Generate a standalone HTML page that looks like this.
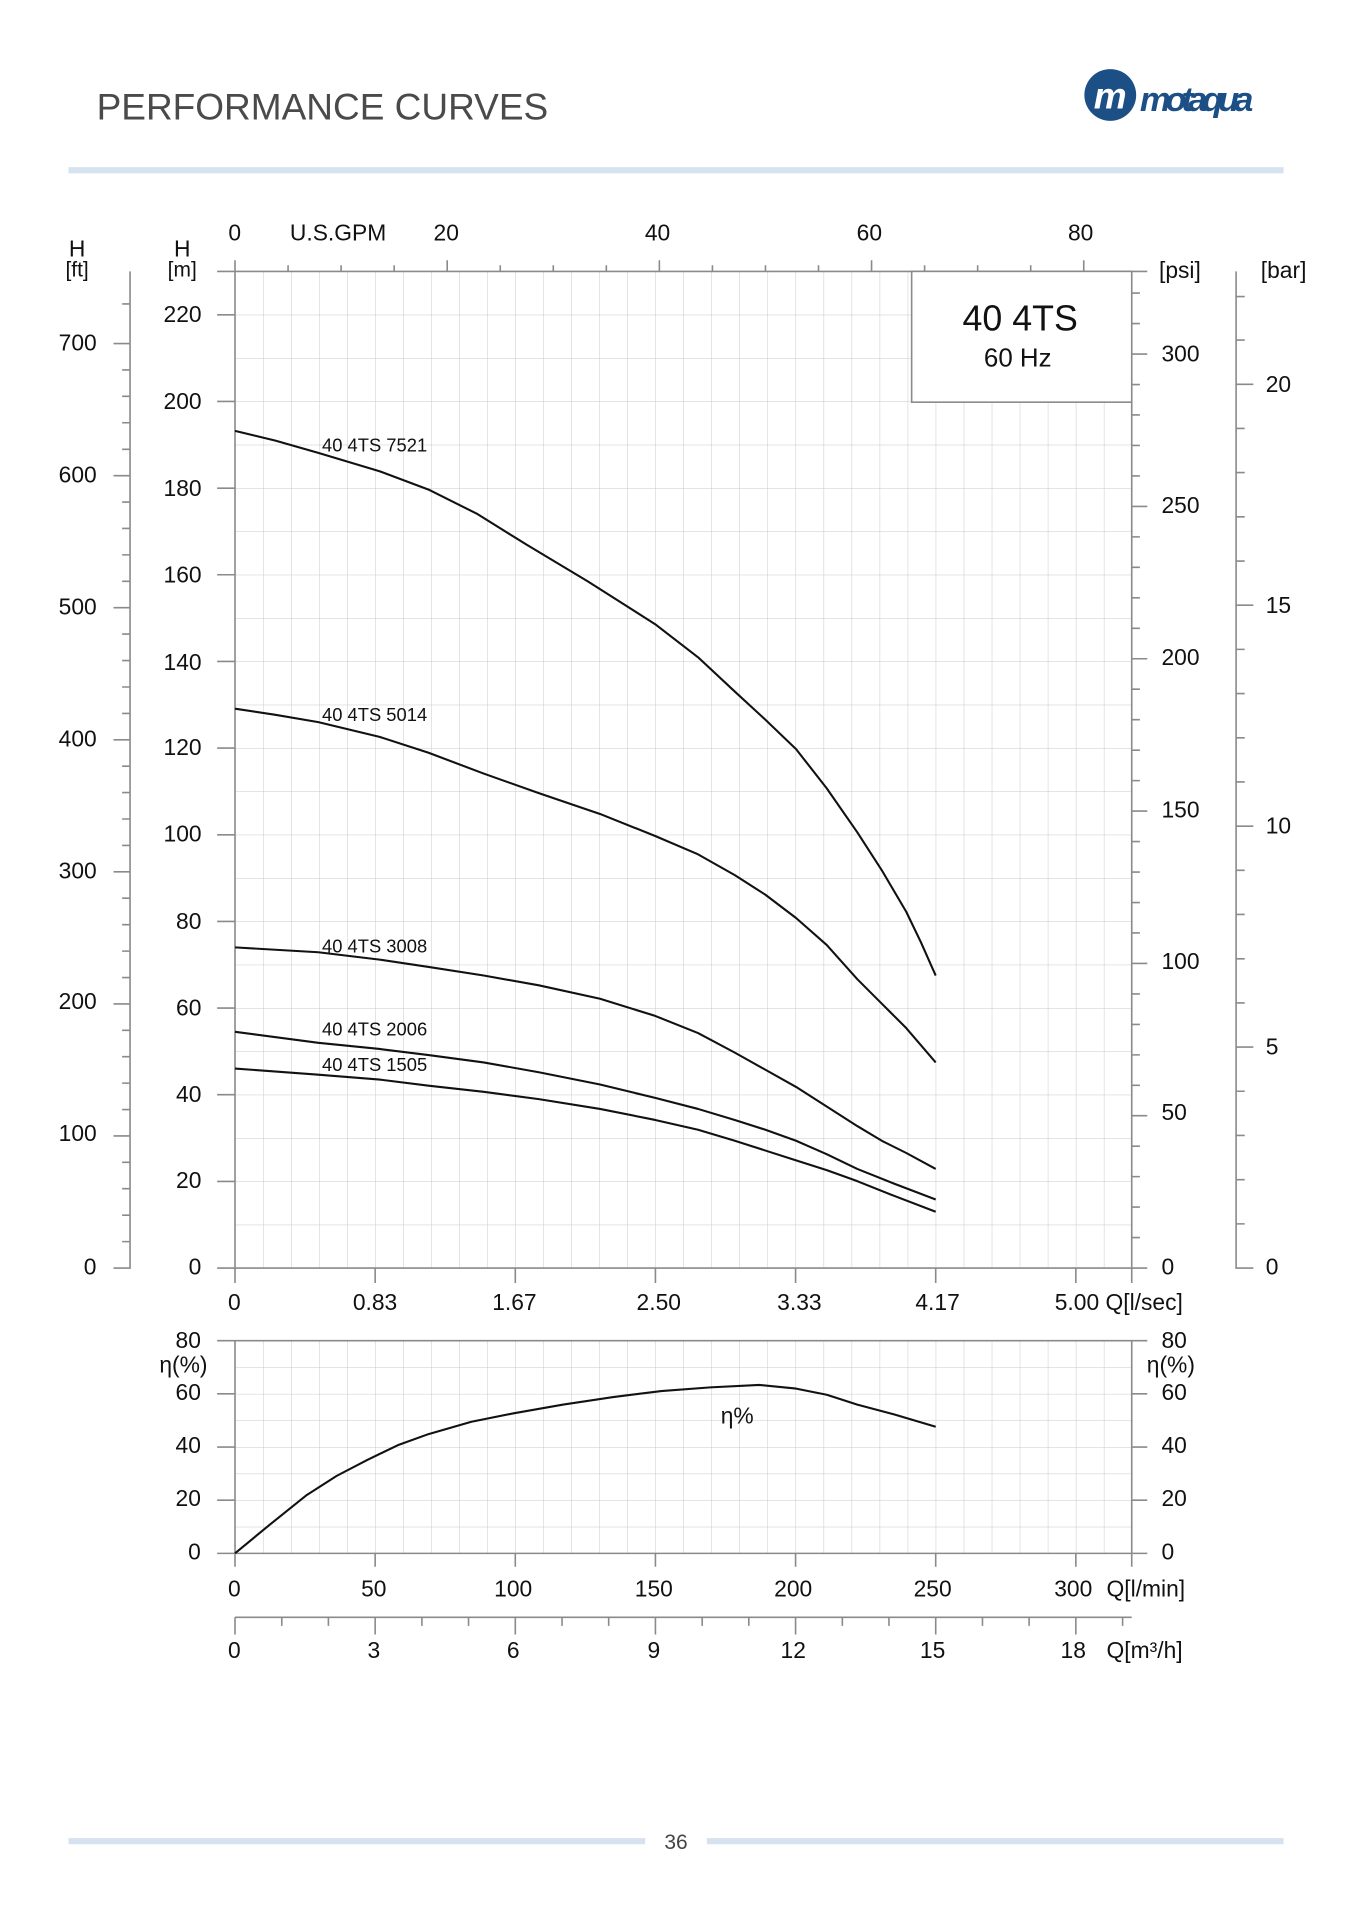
<!DOCTYPE html>
<html><head><meta charset="utf-8"><style>
html,body{margin:0;padding:0;background:#fff;}
svg{display:block;}
text{font-family:"Liberation Sans",Arial,sans-serif;fill:#111;}
</style></head><body>
<svg width="1357" height="1920" viewBox="0 0 1100 1556.4" xmlns="http://www.w3.org/2000/svg">
<defs>
<pattern id="g1" x="190.5" y="1027.9" width="22.72" height="35.126" patternUnits="userSpaceOnUse">
<path d="M0 0V35.126M0 0H22.72" stroke="#c8c8c8" stroke-width="0.8" fill="none"/>
</pattern>
<pattern id="g2" x="190.5" y="1259.2" width="22.72" height="21.55" patternUnits="userSpaceOnUse">
<path d="M0 0V21.55M0 0H22.72" stroke="#c8c8c8" stroke-width="0.8" fill="none"/>
</pattern>
</defs>
<!-- header -->
<text x="78.3" y="97" font-size="30" style="fill:#4a4a4a">PERFORMANCE CURVES</text>
<rect x="55.5" y="135.5" width="985" height="5" fill="#d7e2f1"/>
<circle cx="900" cy="77" r="21" fill="#1b4f86"/>
<text x="900" y="88" font-size="30" font-style="italic" font-weight="bold" text-anchor="middle" style="fill:#fff">m</text>
<text x="924" y="90" font-size="28" font-style="italic" font-weight="bold" textLength="92" style="fill:#1b4f86">motaqua</text>
<!-- footer -->
<rect x="55.5" y="1490" width="467.5" height="5" fill="#d7e2f1"/>
<rect x="573" y="1490" width="467.5" height="5" fill="#d7e2f1"/>
<text x="548" y="1499" font-size="17" text-anchor="middle" style="fill:#444">36</text>

<!-- main grid -->
<rect x="190.5" y="220" width="726.9" height="807.9" fill="url(#g1)"/>
<g stroke="#8a8a8a" stroke-width="1.3" fill="none">
<path d="M176 220H917.4V1040M190.5 211V1040M176 1027.9H930M917.4 220H930"/>
<path d="M176 255.2H190.5M176 325.4H190.5M176 395.7H190.5M176 465.9H190.5M176 536.2H190.5M176 606.4H190.5M176 676.7H190.5M176 746.9H190.5M176 817.2H190.5M176 887.4H190.5M176 957.7H190.5"/>
<path d="M304.1 1027.9V1040M417.7 1027.9V1040M531.3 1027.9V1040M644.9 1027.9V1040M758.5 1027.9V1040M872.1 1027.9V1040"/>
<path d="M362.5 220V211M534.5 220V211M706.5 220V211M878.5 220V211"/>
<path d="M233.5 220V215M276.5 220V215M319.5 220V215M405.5 220V215M448.5 220V215M491.5 220V215M577.5 220V215M620.5 220V215M663.5 220V215M749.5 220V215M792.5 220V215M835.5 220V215"/>
<path d="M105.4 220V1027.9H92M92 278.5H105.4M92 385.6H105.4M92 492.6H105.4M92 599.7H105.4M92 706.7H105.4M92 813.8H105.4M92 920.8H105.4"/>
<path d="M99 246.4H105.4M99 299.9H105.4M99 321.3H105.4M99 342.7H105.4M99 364.2H105.4M99 407H105.4M99 428.4H105.4M99 449.8H105.4M99 471.2H105.4M99 514H105.4M99 535.5H105.4M99 556.9H105.4M99 578.3H105.4M99 621.1H105.4M99 642.5H105.4M99 663.9H105.4M99 685.3H105.4M99 728.1H105.4M99 749.6H105.4M99 771H105.4M99 792.4H105.4M99 835.2H105.4M99 856.6H105.4M99 878H105.4M99 899.4H105.4M99 942.2H105.4M99 963.6H105.4M99 985.1H105.4M99 1006.5H105.4"/>
<path d="M917.4 287H930M917.4 410.5H930M917.4 534H930M917.4 657.5H930M917.4 781H930M917.4 904.4H930"/>
<path d="M917.4 262.3H924M917.4 311.7H924M917.4 336.4H924M917.4 361.1H924M917.4 385.8H924M917.4 435.2H924M917.4 459.9H924M917.4 484.6H924M917.4 509.3H924M917.4 558.7H924M917.4 583.4H924M917.4 608.1H924M917.4 632.8H924M917.4 682.2H924M917.4 706.9H924M917.4 731.6H924M917.4 756.3H924M917.4 805.7H924M917.4 830.4H924M917.4 855.1H924M917.4 879.8H924M917.4 929.1H924M917.4 953.8H924M917.4 978.5H924M917.4 1003.2H924M917.4 237.6H924"/>
<path d="M1002 220V1027.9H1016M1002 311.5H1016M1002 490.6H1016M1002 669.7H1016M1002 848.8H1016"/>
<path d="M1002 240.4H1009M1002 275.7H1009M1002 347.3H1009M1002 383.1H1009M1002 418.9H1009M1002 454.8H1009M1002 526.4H1009M1002 562.2H1009M1002 598.1H1009M1002 633.9H1009M1002 705.5H1009M1002 741.3H1009M1002 777.2H1009M1002 813H1009M1002 884.6H1009M1002 920.4H1009M1002 956.3H1009M1002 992.1H1009"/>
</g>
<!-- legend box -->
<rect x="739" y="220" width="178.4" height="106" fill="#fff" stroke="#8a8a8a" stroke-width="1.3"/>
<text x="827" y="268" font-size="29" text-anchor="middle">40 4TS</text>
<text x="825" y="297" font-size="21" text-anchor="middle">60 Hz</text>

<!-- axis labels -->
<g font-size="18.5">
<text x="62.5" y="208" text-anchor="middle">H</text><text x="62.5" y="224" text-anchor="middle" font-size="17">[ft]</text>
<text x="147.7" y="208" text-anchor="middle">H</text><text x="147.7" y="224" text-anchor="middle" font-size="17">[m]</text>
<g text-anchor="middle">
<text x="63" y="284">700</text><text x="63" y="391">600</text><text x="63" y="498">500</text><text x="63" y="605">400</text><text x="63" y="712">300</text><text x="63" y="818">200</text><text x="63" y="925">100</text><text x="73" y="1033">0</text>
<text x="148" y="261">220</text><text x="148" y="331.5">200</text><text x="148" y="402">180</text><text x="148" y="472">160</text><text x="148" y="543">140</text><text x="148" y="612">120</text><text x="148" y="682">100</text><text x="153" y="753">80</text><text x="153" y="823">60</text><text x="153" y="893.5">40</text><text x="153" y="963">20</text><text x="158" y="1033">0</text>
<text x="190.3" y="195">0</text><text x="361.7" y="195">20</text><text x="533" y="195">40</text><text x="704.7" y="195">60</text><text x="876" y="195">80</text>
<text x="190" y="1062">0</text><text x="304" y="1062">0.83</text><text x="417" y="1062">1.67</text><text x="534" y="1062">2.50</text><text x="648" y="1062">3.33</text><text x="760" y="1062">4.17</text>
</g>
<text x="235" y="195">U.S.GPM</text>
<text x="855" y="1062">5.00 Q[l/sec]</text>
<text x="939.5" y="225.5">[psi]</text><text x="1022" y="225.5">[bar]</text>
<text x="941.5" y="293">300</text><text x="941.5" y="416">250</text><text x="941.5" y="539">200</text><text x="941.5" y="662.5">150</text><text x="941.5" y="785.5">100</text><text x="941.5" y="908">50</text><text x="941.5" y="1033">0</text>
<text x="1026" y="317.7">20</text><text x="1026" y="497">15</text><text x="1026" y="675.5">10</text><text x="1026" y="855">5</text><text x="1026" y="1033">0</text>
</g>

<!-- head curves -->
<g transform="matrix(0.993,0,0,0.9922,-0.16,0)">
<g fill="none" stroke="#111" stroke-width="1.7" stroke-linejoin="round">
<polyline points="192,352 225,360 260,370 310,385 350,400 390,420 430,445 480,475 535,510 570,537 600,565 625,588 650,612 675,644 700,680 720,711 740,745 752,770 764,797"/>
<polyline points="192,579 225,584 260,590 310,602 350,615 395,632 440,648 490,665 535,683 570,698 600,715 625,731 650,750 675,772 700,800 720,820 740,840 752,854 764,868"/>
<polyline points="192,774 260,778 310,784 350,790 395,797 440,805 490,816 535,830 570,844 600,860 625,874 650,888 675,904 700,920 720,932 740,942 764,955"/>
<polyline points="192,843 260,852 310,857 350,862 395,868 440,876 490,886 535,897 570,906 600,915 625,923 650,932 675,943 700,955 730,967 764,980"/>
<polyline points="192,873 260,878 310,882 350,887 395,892 440,898 490,906 535,915 570,923 600,932 625,940 650,948 675,956 700,965 730,977 764,990"/>
</g>
<g font-size="15">
<text x="263" y="369">40 4TS 7521</text>
<text x="263" y="589">40 4TS 5014</text>
<text x="263" y="778">40 4TS 3008</text>
<text x="263" y="846">40 4TS 2006</text>
<text x="263" y="875">40 4TS 1505</text>
</g>
</g>

<!-- efficiency chart -->
<rect x="190.5" y="1086.8" width="726.9" height="172.4" fill="url(#g2)"/>
<g stroke="#8a8a8a" stroke-width="1.3" fill="none">
<path d="M176 1086.8H930M190.5 1086.8V1270M917.4 1086.8V1270M176 1259.2H930M176 1129.9H190.5M176 1173H190.5M176 1216.1H190.5M917.4 1129.9H930M917.4 1173H930M917.4 1216.1H930"/>
<path d="M304.1 1259.2V1270M417.7 1259.2V1270M531.3 1259.2V1270M644.9 1259.2V1270M758.5 1259.2V1270M872.1 1259.2V1270"/>
<path d="M190.5 1311H917.4M190.5 1311V1325M304.1 1311V1325M417.7 1311V1325M531.3 1311V1325M644.9 1311V1325M758.5 1311V1325M872.1 1311V1325"/>
<path d="M228.4 1311V1318M266.2 1311V1318M342 1311V1318M379.8 1311V1318M455.6 1311V1318M493.4 1311V1318M569.2 1311V1318M607 1311V1318M682.8 1311V1318M720.6 1311V1318M796.4 1311V1318M834.2 1311V1318M910 1311V1318"/>
</g>
<g transform="matrix(0.993,0,0,0.9965,-0.16,-5.4)">
<polyline fill="none" stroke="#111" stroke-width="1.7" stroke-linejoin="round" points="192,1269 220,1246 250,1222 275,1206 300,1193 325,1181 350,1172 385,1162 420,1155 460,1148 500,1142 540,1137 580,1134 620,1132 650,1135 675,1140 700,1148 730,1156 764,1166"/>
</g>
<g font-size="18.5">
<text x="597.6" y="1154" text-anchor="middle">η%</text>
<text x="152.6" y="1092.7" text-anchor="middle">80</text><text x="148.7" y="1112.5" text-anchor="middle">η(%)</text>
<text x="152.6" y="1135" text-anchor="middle">60</text><text x="152.6" y="1178" text-anchor="middle">40</text><text x="152.6" y="1220.6" text-anchor="middle">20</text><text x="157.6" y="1264" text-anchor="middle">0</text>
<text x="941.5" y="1092.7">80</text><text x="929.6" y="1112.5">η(%)</text>
<text x="941.5" y="1135">60</text><text x="941.5" y="1178">40</text><text x="941.5" y="1220.6">20</text><text x="941.5" y="1264">0</text>
<g text-anchor="middle">
<text x="190" y="1294">0</text><text x="303" y="1294">50</text><text x="416" y="1294">100</text><text x="530" y="1294">150</text><text x="643" y="1294">200</text><text x="756" y="1294">250</text><text x="870" y="1294">300</text>
<text x="190" y="1344">0</text><text x="303" y="1344">3</text><text x="416" y="1344">6</text><text x="530" y="1344">9</text><text x="643" y="1344">12</text><text x="756" y="1344">15</text><text x="870" y="1344">18</text>
</g>
<text x="897" y="1294">Q[l/min]</text>
<text x="897" y="1344">Q[m³/h]</text>
</g>
</svg>
</body></html>
